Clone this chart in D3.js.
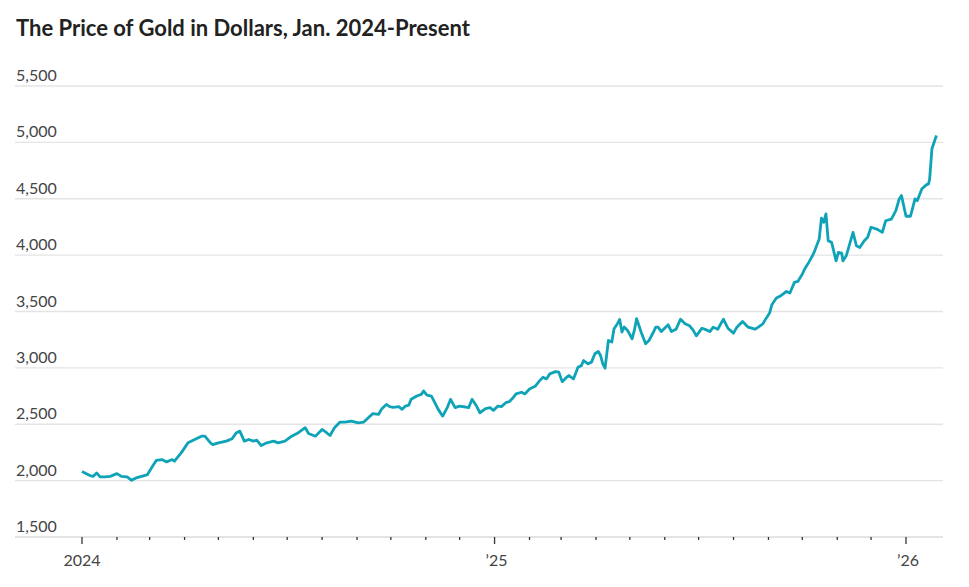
<!DOCTYPE html>
<html>
<head>
<meta charset="utf-8">
<script src="https://cdn.jsdelivr.net/npm/d3@7"></script>
<style>
  body { margin: 0; background: #fff; }
  svg { display: block; }
</style>
</head>
<body>
<div id="container"></div>
<script>
// values
const dates = [
  "2024-01-01","2024-01-08","2024-01-11","2024-01-14","2024-01-17","2024-01-21","2024-01-26",
  "2024-02-01","2024-02-05","2024-02-10","2024-02-14","2024-02-18","2024-02-26","2024-02-28",
  "2024-03-03","2024-03-07","2024-03-12","2024-03-16","2024-03-21","2024-03-23","2024-03-29",
  "2024-04-04","2024-04-10","2024-04-16","2024-04-19","2024-04-24","2024-04-26","2024-05-01",
  "2024-05-08","2024-05-13","2024-05-17","2024-05-20","2024-05-24","2024-05-28","2024-06-01",
  "2024-06-04","2024-06-08","2024-06-13","2024-06-19","2024-06-23","2024-06-29","2024-07-05",
  "2024-07-11","2024-07-17","2024-07-20","2024-07-26","2024-08-01","2024-08-05","2024-08-08",
  "2024-08-12","2024-08-17","2024-08-21","2024-08-27","2024-09-02","2024-09-07","2024-09-11",
  "2024-09-15","2024-09-20","2024-09-23","2024-09-27","2024-09-30","2024-10-03","2024-10-08",
  "2024-10-11","2024-10-14","2024-10-17","2024-10-19","2024-10-24","2024-10-28","2024-10-30",
  "2024-11-02","2024-11-06","2024-11-09","2024-11-12","2024-11-16","2024-11-20","2024-11-23",
  "2024-11-27","2024-12-01","2024-12-06","2024-12-09","2024-12-12","2024-12-16","2024-12-19",
  "2024-12-24","2024-12-28","2024-12-31","2025-01-04","2025-01-07","2025-01-11","2025-01-14",
  "2025-01-17","2025-01-20","2025-01-25","2025-01-28","2025-02-01","2025-02-06","2025-02-10",
  "2025-02-13","2025-02-16","2025-02-19","2025-02-24","2025-02-27","2025-03-02","2025-03-06",
  "2025-03-08","2025-03-12","2025-03-16","2025-03-19","2025-03-21","2025-03-25","2025-03-28",
  "2025-03-31","2025-04-03","2025-04-05","2025-04-07","2025-04-09","2025-04-12","2025-04-15",
  "2025-04-17","2025-04-20","2025-04-22","2025-04-24","2025-04-26","2025-04-29","2025-05-03",
  "2025-05-05","2025-05-07","2025-05-11","2025-05-15","2025-05-18","2025-05-22","2025-05-24",
  "2025-05-26","2025-05-29","2025-06-04","2025-06-07","2025-06-11","2025-06-15","2025-06-19",
  "2025-06-23","2025-06-26","2025-06-29","2025-07-04","2025-07-08","2025-07-11","2025-07-14",
  "2025-07-18","2025-07-23","2025-07-27","2025-08-01","2025-08-04","2025-08-09","2025-08-14",
  "2025-08-20","2025-08-23","2025-08-27","2025-08-30","2025-09-02","2025-09-04","2025-09-08",
  "2025-09-12","2025-09-17","2025-09-20","2025-09-24","2025-09-27","2025-10-01","2025-10-03",
  "2025-10-07","2025-10-10","2025-10-12","2025-10-16","2025-10-18","2025-10-20","2025-10-22",
  "2025-10-24","2025-10-27","2025-10-31","2025-11-02","2025-11-05","2025-11-06","2025-11-09",
  "2025-11-15","2025-11-18","2025-11-21","2025-11-25","2025-11-28","2025-12-01","2025-12-06",
  "2025-12-11","2025-12-14","2025-12-19","2025-12-23","2025-12-26","2025-12-28","2026-01-01",
  "2026-01-05","2026-01-09","2026-01-11","2026-01-15","2026-01-19","2026-01-21","2026-01-22",
  "2026-01-24","2026-01-28"
];
const prices = [
  2080,2045,2038,2068,2033,2033,2038,
  2062,2038,2033,2003,2024,2047,2053,
  2118,2180,2187,2166,2187,2172,2246,
  2335,2365,2394,2394,2335,2320,2335,
  2350,2371,2425,2439,2350,2365,2350,
  2359,2311,2335,2350,2335,2350,2394,
  2425,2469,2418,2394,2454,2425,2400,
  2469,2519,2519,2528,2513,2519,2558,
  2594,2587,2638,2676,2656,2650,2656,
  2632,2661,2670,2721,2750,2765,2795,
  2759,2750,2691,2632,2572,2647,2721,
  2647,2661,2653,2647,2721,2661,2602,
  2638,2647,2623,2661,2656,2691,2700,
  2730,2769,2784,2769,2813,2837,2887,
  2917,2902,2947,2967,2962,2878,2917,
  2932,2902,3006,3020,3065,3036,3051,
  3125,3145,3110,3036,2997,3243,3229,
  3347,3392,3430,3318,3362,3332,3258,
  3332,3436,3318,3214,3243,3318,3362,
  3361,3322,3382,3322,3343,3432,3391,
  3373,3337,3284,3352,3337,3322,3361,
  3343,3432,3352,3308,3361,3411,3361,
  3343,3361,3391,3441,3486,3560,3619,
  3640,3678,3664,3758,3767,3830,3875,
  3940,3994,4038,4142,4327,4291,4365,
  4127,4113,3949,4024,4018,3949,3994,
  4202,4083,4068,4127,4158,4247,4231,
  4202,4305,4320,4394,4498,4528,4345,
  4345,4498,4483,4587,4623,4632,4676,
  4943,5061
];
const yTicks = [1500, 2000, 2500, 3000, 3500, 4000, 4500, 5000, 5500];
const yearTicks = ["2024-01-01", "2025-01-01", "2026-01-01"];
const yearLabels = ["2024", "\u201925", "\u201926"];

const width = 969, height = 587;
const parse = d3.utcParse("%Y-%m-%d");
const data = dates.map((d, i) => ({ date: parse(d), value: prices[i] }));

const x = d3.scaleUtc()
  .domain([parse("2024-01-01"), parse("2026-01-01")])
  .range([82, 906]);
const y = d3.scaleLinear()
  .domain([1500, 5500])
  .range([537, 86]);

const svg = d3.create("svg")
  .attr("width", width)
  .attr("height", height)
  .attr("viewBox", [0, 0, width, height]);

svg.append("text")
  .attr("x", 16)
  .attr("y", 36)
  .attr("font-family", "Lato, sans-serif")
  .attr("font-weight", "bold")
  .attr("font-size", 22)
  .attr("fill", "#222")
  .text("The Price of Gold in Dollars, Jan. 2024-Present");

// gridlines + y labels
const grid = svg.append("g");
grid.selectAll("line")
  .data(yTicks)
  .join("line")
  .attr("x1", 15)
  .attr("x2", 943)
  .attr("y1", d => y(d))
  .attr("y2", d => y(d))
  .attr("stroke", "#e4e4e4")
  .attr("stroke-width", d => d === 1500 ? 2 : 1.3);
grid.selectAll("text")
  .data(yTicks)
  .join("text")
  .attr("x", 16)
  .attr("y", d => y(d) - 5)
  .attr("font-family", "Lato, sans-serif")
  .attr("font-size", 16)
  .attr("fill", "#444")
  .text(d => d3.format(",")(d));

// x axis ticks, one per month, longer at years
const months = d3.utcMonth.range(parse("2024-01-01"), parse("2026-01-02"));
svg.append("g")
  .selectAll("line")
  .data(months)
  .join("line")
  .attr("x1", d => x(d))
  .attr("x2", d => x(d))
  .attr("y1", 537)
  .attr("y2", d => d.getUTCMonth() === 0 ? 544 : 540)
  .attr("stroke", "#333")
  .attr("stroke-width", 1.3);

svg.append("g")
  .selectAll("text")
  .data(yearTicks)
  .join("text")
  .attr("x", (d, i) => x(parse(d)) + (i ? 2 : 0))
  .attr("y", 566)
  .attr("text-anchor", "middle")
  .attr("font-family", "Lato, sans-serif")
  .attr("font-size", 16)
  .attr("fill", "#444")
  .text((d, i) => yearLabels[i]);

const line = d3.line()
  .x(d => x(d.date))
  .y(d => y(d.value));

svg.append("path")
  .datum(data)
  .attr("fill", "none")
  .attr("stroke", "#0fa3b8")
  .attr("stroke-width", 2.8)
  .attr("stroke-linejoin", "round")
  .attr("d", line);

document.getElementById("container").appendChild(svg.node());
</script>
</body>
</html>
